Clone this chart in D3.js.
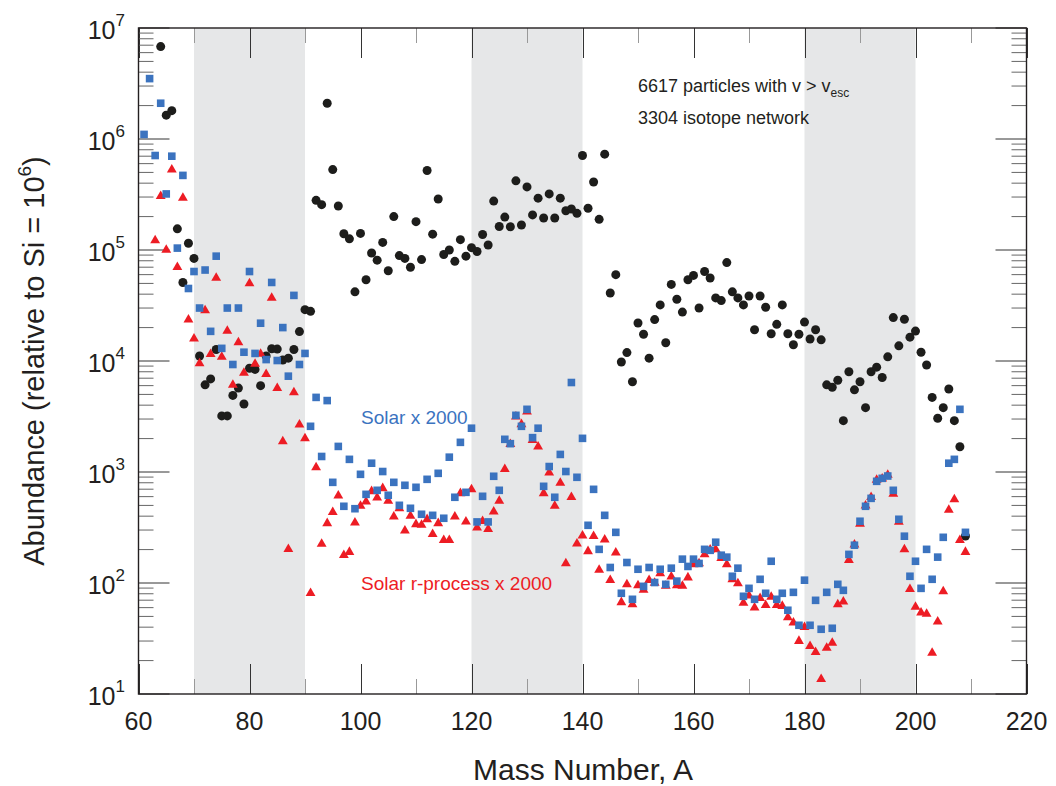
<!DOCTYPE html>
<html>
<head>
<meta charset="utf-8">
<script src="https://cdn.jsdelivr.net/npm/d3@7/dist/d3.min.js"></script>
<style>
  html, body { margin: 0; padding: 0; background: #fff; }
  svg { display: block; font-family: "Liberation Sans", Arial, Helvetica, sans-serif; }
</style>
</head>
<body>
<svg id="chart" width="1056" height="786"></svg>
<script>
// ---------------- DATA ----------------
const xTickValues = [60, 80, 100, 120, 140, 160, 180, 200, 220];
const yDecades = [1, 2, 3, 4, 5, 6, 7];
const shadedBands = [[70, 90], [120, 140], [180, 200]];

// Ejecta (6617 particles) — mass numbers 64..209
const ejectaStartA = 64;
const ejectaValues = [
  6.8e6, 1.64e6, 1.8e6, 1.55e5, 5.1e4, 1.15e5, 8.4e4, 1.11e4, 6.1e3, 6.9e3,      // 64-73
  1.27e4, 3.2e3, 3.2e3, 4.9e3, 5.7e3, 4.1e3, 8.6e3, 8.4e3, 6.0e3, 1.11e4,        // 74-83
  1.29e4, 1.28e4, 1.02e4, 1.06e4, 1.27e4, 1.84e4, 2.9e4, 2.8e4, 2.8e5, 2.56e5,   // 84-93
  2.1e6, 5.3e5, 2.49e5, 1.40e5, 1.26e5, 4.2e4, 1.41e5, 5.4e4, 9.4e4, 8.1e4,      // 94-103
  1.17e5, 6.5e4, 2.0e5, 8.9e4, 8.4e4, 7.0e4, 1.80e5, 8.2e4, 5.2e5, 1.39e5,       // 104-113
  2.88e5, 9.1e4, 1.0e5, 7.9e4, 1.24e5, 8.8e4, 1.05e5, 9.7e4, 1.38e5, 1.11e5,     // 114-123
  2.76e5, 1.63e5, 1.98e5, 1.62e5, 4.2e5, 1.68e5, 3.7e5, 2.07e5, 2.93e5, 1.94e5,  // 124-133
  3.2e5, 1.94e5, 2.93e5, 2.26e5, 2.34e5, 2.14e5, 7.1e5, 2.38e5, 4.1e5, 1.89e5,   // 134-143
  7.3e5, 4.1e4, 6.0e4, 9.8e3, 1.19e4, 6.5e3, 2.2e4, 1.74e4, 1.06e4, 2.36e4,      // 144-153
  3.2e4, 1.46e4, 4.9e4, 3.6e4, 2.76e4, 5.4e4, 5.9e4, 3.0e4, 6.4e4, 5.6e4,        // 154-163
  3.7e4, 3.5e4, 7.7e4, 4.2e4, 3.7e4, 3.2e4, 3.85e4, 1.91e4, 3.85e4, 3.05e4,      // 164-173
  1.76e4, 2.14e4, 3.2e4, 1.76e4, 1.40e4, 1.74e4, 2.24e4, 1.58e4, 1.91e4, 1.55e4, // 174-183
  6.1e3, 5.8e3, 6.7e3, 2.9e3, 8.0e3, 5.5e3, 6.5e3, 3.8e3, 8.0e3, 8.8e3,          // 184-193
  7.1e3, 1.09e4, 2.46e4, 1.37e4, 2.38e4, 1.64e4, 1.86e4, 1.20e4, 9.2e3, 4.7e3,   // 194-203
  3.05e3, 3.8e3, 5.6e3, 2.9e3, 1.69e3, 265                                       // 204-209
];

// Solar x 2000 — mass numbers 61..209
const solarStartA = 61;
const solarValues = [
  1.10e6, 3.5e6, 7.1e5, 2.1e6, 3.2e5, 7.0e5, 1.04e5, 4.7e5, 4.5e4, 6.4e4,        // 61-70
  3.0e4, 6.6e4, 1.85e4, 8.8e4, 1.30e4, 3.0e4, 9.3e3, 3.0e4, 1.20e4, 6.4e4,       // 71-80
  1.17e4, 2.19e4, 1.03e4, 5.1e4, 1.01e4, 2.0e4, 7.3e3, 3.9e4, 9.3e3, 1.17e4,     // 81-90
  2.58e3, 4.7e3, 1.38e3, 4.4e3, 807, 1.70e3, 491, 1.30e3, 467, 953,              // 91-100
  629, 1.20e3, 684, 1.01e3, 617, 807, 501, 759, 471, 728,                        // 101-110
  416, 859, 407, 973, 383, 1.36e3, 592, 1.85e3, 656, 2.48e3,                     // 111-120
  355, 604, 355, 915, 684, 1.97e3, 1.80e3, 3.24e3, 2.58e3, 3.67e3,               // 121-130
  2.04e3, 2.48e3, 743, 1.12e3, 592, 1.44e3, 1.01e3, 6.4e3, 896, 2.01e3,          // 131-140
  331, 698, 201, 407, 138, 286, 80.8, 153, 71.3, 133,                            // 141-150
  93.3, 138, 101, 133, 97.3, 136, 104, 164, 141, 164,                            // 151-160
  150, 201, 197, 233, 178, 171, 115, 136, 75.9, 89.5,                            // 161-170
  71.3, 108, 80.8, 157, 71.3, 80.8, 56.8, 82.4, 41.6, 106,                       // 171-180
  41.6, 69.8, 38.3, 82.4, 39.1, 97.3, 85.9, 181, 219, 360,                       // 181-190
  491, 579, 824, 877, 920, 684, 375, 264, 115, 157,                              // 191-200
  89.5, 201, 108, 171, 258, 1.20e3, 1.30e3, 3.67e3, 286                          // 201-209
];

// Solar r-process x 2000 — mass numbers 63..209
const rprocStartA = 63;
const rprocValues = [
  1.22e5, 3.06e5, 1.0e5, 5.3e5, 7.0e4, 2.94e5, 2.36e4, 1.59e4, 9.5e3, 2.86e4,    // 63-72
  1.15e4, 5.6e4, 1.09e4, 1.87e4, 6.1e3, 1.47e4, 7.8e3, 5.0e4, 9.4e3, 1.16e4,     // 73-82
  7.6e3, 3.7e4, 5.7e3, 1.89e3, 202, 5.2e3, 2.67e3, 2.01e3, 81, 1.10e3,           // 83-92
  225, 345, 434, 611, 178, 190, 349, 494, 540, 670,                              // 93-102
  587, 713, 548, 396, 470, 296, 402, 338, 333, 375,                              // 103-112
  275, 345, 243, 243, 396, 643, 357, 698, 315, 360,                              // 113-122
  306, 439, 548, 1.06e3, 1.78e3, 3.15e3, 2.69e3, 3.49e3, 1.94e3, 1.69e3,         // 123-132
  643, 986, 494, 796, 150, 592, 226, 267, 193, 264,                              // 133-142
  131, 246, 106, 188, 67, 97, 64, 95, 86.5, 106,                                 // 143-152
  100, 122, 94, 114, 95, 94, 112, 147, 150, 181,                                 // 153-162
  200, 201, 167, 147, 108, 99, 66, 77, 60, 73,                                   // 163-172
  63, 75, 63, 62, 49, 44, 30, 40, 27, 23.8,                                      // 173-182
  13.6, 26, 28.8, 64, 68, 161, 221, 340, 497, 592,                               // 183-192
  847, 870, 940, 634, 355, 201, 88, 61, 54, 52.6,                                // 193-202
  23.5, 44.8, 84, 455, 567, 243, 190                                             // 203-209
];

const labelSolar = "Solar x 2000";
const labelRproc = "Solar r-process x 2000";
const noteLine1 = "6617 particles with v > v";
const noteLine1Sub = "esc";
const noteLine2 = "3304 isotope network";
const xTitle = "Mass Number, A";
const yTitleMain = "Abundance (relative to Si = 10";
const yTitleSup = "6";
const yTitleEnd = ")";

// ---------------- LAYOUT ----------------
const svg = d3.select("#chart");
const L = 138.5, R = 1026.5, T = 28, B = 694;
const x = d3.scaleLinear().domain([60, 220]).range([L, R]);
const y = d3.scaleLog().domain([10, 1e7]).range([B, T]);

const toPoints = (start, vals) => vals.map((v, i) => ({ A: start + i, v }));
const ejecta = toPoints(ejectaStartA, ejectaValues);
const solar = toPoints(solarStartA, solarValues);
const rproc = toPoints(rprocStartA, rprocValues);

// shaded bands
svg.append("g").selectAll("rect").data(shadedBands).join("rect")
  .attr("x", d => x(d[0])).attr("width", d => x(d[1]) - x(d[0]))
  .attr("y", T).attr("height", B - T)
  .attr("fill", "#e6e7e8");

// ticks (inward, on all four sides)
const tickG = svg.append("g").attr("stroke", "#444").attr("stroke-width", 1);
const xMinor = d3.range(60, 221, 10);
xMinor.forEach(a => {
  const major = xTickValues.includes(a);
  const len = major ? 30 : 15;
  const px = Math.round(x(a)) + 0.5;
  tickG.append("line").attr("x1", px).attr("x2", px).attr("y1", B).attr("y2", B - len)
    .attr("stroke", major ? "#333" : "#999");
  tickG.append("line").attr("x1", px).attr("x2", px).attr("y1", T).attr("y2", T + len)
    .attr("stroke", major ? "#333" : "#999");
});
const yTicksAll = y.ticks();
yTicksAll.forEach(v => {
  const lg = Math.log10(v);
  const major = Math.abs(lg - Math.round(lg)) < 1e-9;
  const len = major ? 31 : 15;
  const py = y(v);
  tickG.append("line").attr("x1", L).attr("x2", L + len).attr("y1", py).attr("y2", py)
    .attr("stroke", major ? "#333" : "#666");
  tickG.append("line").attr("x1", R).attr("x2", R - len).attr("y1", py).attr("y2", py)
    .attr("stroke", major ? "#333" : "#666");
});

// frame
svg.append("rect").attr("x", L).attr("y", T).attr("width", R - L).attr("height", B - T)
  .attr("fill", "none").attr("stroke", "#231f20").attr("stroke-width", 1.4);

// x tick labels
svg.append("g").selectAll("text").data(xTickValues).join("text")
  .attr("x", d => x(d)).attr("y", B + 36)
  .attr("text-anchor", "middle").attr("font-size", 25).attr("fill", "#231f20")
  .text(d => d);

// y tick labels 10^n
const yl = svg.append("g").attr("fill", "#231f20");
yDecades.forEach(n => {
  const t = yl.append("text").attr("x", 125).attr("y", y(Math.pow(10, n)) + 11)
    .attr("text-anchor", "end").attr("font-size", 25);
  t.append("tspan").text("10");
  t.append("tspan").attr("font-size", 17).attr("dy", -13).text(n);
});

// series: ejecta circles
svg.append("g").selectAll("circle").data(ejecta).join("circle")
  .attr("cx", d => x(d.A)).attr("cy", d => y(d.v)).attr("r", 4.5)
  .attr("fill", "#1d1d1b");

// r-process triangles
const tri = d3.symbol().type(d3.symbolTriangle).size(42);
svg.append("g").selectAll("path").data(rproc).join("path")
  .attr("d", tri)
  .attr("transform", d => `translate(${x(d.A)},${y(d.v)})`)
  .attr("fill", "#ed1c24");

// solar squares
const sq = 7.6;
svg.append("g").selectAll("rect").data(solar).join("rect")
  .attr("x", d => x(d.A) - sq / 2).attr("y", d => y(d.v) - sq / 2)
  .attr("width", sq).attr("height", sq)
  .attr("fill", "#3b73bf");

// in-plot labels
svg.append("text").attr("x", 361).attr("y", 424).attr("font-size", 19)
  .attr("fill", "#3b73bf").text(labelSolar);
svg.append("text").attr("x", 361).attr("y", 590).attr("font-size", 19)
  .attr("fill", "#ed1c24").text(labelRproc);

const n1 = svg.append("text").attr("x", 638).attr("y", 92).attr("font-size", 18).attr("fill", "#231f20");
n1.append("tspan").text(noteLine1);
n1.append("tspan").attr("font-size", 12).attr("dy", 5).text(noteLine1Sub);
svg.append("text").attr("x", 638).attr("y", 124).attr("font-size", 18).attr("fill", "#231f20")
  .text(noteLine2);

// axis titles
svg.append("text").attr("x", 583).attr("y", 780)
  .attr("text-anchor", "middle").attr("font-size", 30).attr("fill", "#231f20")
  .text(xTitle);
const yt = svg.append("text")
  .attr("transform", `translate(44,${(T + B) / 2}) rotate(-90)`)
  .attr("text-anchor", "middle").attr("font-size", 29).attr("fill", "#231f20");
yt.append("tspan").text(yTitleMain);
yt.append("tspan").attr("font-size", 19).attr("dy", -13).text(yTitleSup);
yt.append("tspan").attr("dy", 13).text(yTitleEnd);
</script>
</body>
</html>
